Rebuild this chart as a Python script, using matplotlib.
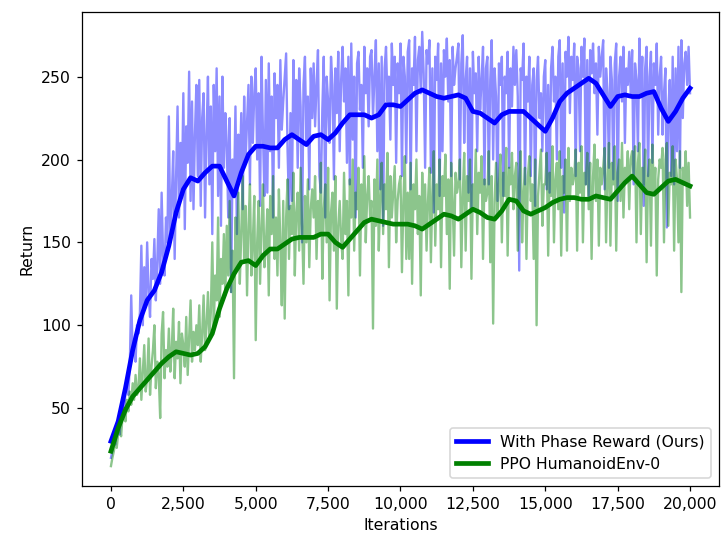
import numpy as np
import matplotlib
matplotlib.use("Agg")
import matplotlib.pyplot as plt
from matplotlib.ticker import StrMethodFormatter

# ---------------- data ----------------
raw_step = 50
smooth_step = 250

blue_raw = [
    20, 24, 30, 28, 36, 40, 34, 48, 52, 45, 60, 66, 58, 75, 118, 82, 90, 78, 100, 95,
    108, 148, 100, 135, 112, 150, 120, 105, 140, 128, 152, 115, 138, 170, 125, 180, 142, 130, 165, 150,
    226, 150, 175, 205, 140, 190, 232, 165, 210, 180, 240, 158, 220, 198, 253, 175, 235, 170, 215, 245,
    190, 248, 172, 225, 240, 165, 215, 250, 185, 232, 155, 245, 205, 255, 178, 238, 160, 250, 195, 228,
    210, 165, 225, 120, 200, 180, 232, 155, 215, 190, 228, 170, 238, 200, 222, 245, 185, 250, 210, 240,
    255, 200, 240, 172, 262, 215, 178, 248, 180, 258, 205, 238, 165, 252, 225, 245, 195, 260, 218, 235,
    250, 264, 205, 170, 228, 175, 260, 215, 248, 195, 255, 232, 150, 245, 262, 210, 238, 182, 255, 225,
    258, 220, 245, 266, 190, 180, 230, 262, 165, 250, 235, 210, 262, 245, 188, 255, 228, 265, 205, 248,
    268, 235, 255, 198, 262, 185, 270, 212, 250, 165, 258, 265, 230, 245, 195, 268, 240, 255, 220, 262,
    266, 225, 250, 272, 205, 258, 182, 262, 160, 255, 268, 235, 250, 212, 270, 245, 262, 198, 258, 240,
    270, 190, 262, 250, 198, 265, 272, 182, 255, 245, 274, 205, 260, 268, 240, 277, 252, 195, 266, 258,
    272, 192, 255, 168, 262, 248, 270, 178, 258, 205, 266, 250, 273, 235, 260, 190, 268, 245, 255, 262,
    270, 188, 258, 275, 210, 248, 262, 180, 255, 170, 265, 240, 252, 205, 262, 230, 248, 268, 185, 255,
    262, 185, 248, 272, 200, 255, 238, 175, 258, 245, 262, 178, 250, 240, 265, 195, 255, 232, 268, 245,
    266, 238, 133, 255, 248, 270, 185, 250, 235, 262, 190, 245, 255, 172, 248, 262, 225, 240, 205, 250,
    260, 182, 245, 180, 255, 268, 235, 250, 200, 262, 272, 195, 258, 168, 265, 250, 274, 228, 262, 248,
    270, 190, 262, 255, 205, 268, 250, 273, 185, 260, 178, 266, 252, 270, 240, 258, 215, 268, 250, 262,
    272, 182, 255, 240, 195, 262, 248, 188, 258, 270, 175, 250, 262, 235, 268, 210, 255, 245, 265, 240,
    266, 185, 258, 248, 205, 273, 240, 262, 172, 255, 268, 190, 250, 265, 198, 258, 245, 270, 215, 250,
    262, 215, 240, 255, 159, 230, 248, 190, 262, 185, 255, 205, 268, 195, 272, 225, 258, 265, 245, 268,
    240,
]

green_raw = [
    15, 20, 24, 30, 26, 35, 40, 33, 45, 50, 42, 55, 48, 60, 52, 65, 55, 70, 58, 62,
    80, 55, 72, 88, 60, 68, 92, 58, 75, 85, 100, 62, 78, 70, 44, 95, 108, 68, 85, 75,
    98, 72, 85, 110, 68, 90, 80, 102, 65, 95, 88, 75, 105, 70, 92, 115, 78, 96, 85, 100,
    88, 112, 78, 95, 118, 85, 100, 120, 92, 108, 150, 98, 130, 115, 165, 105, 140, 125, 155, 118,
    160, 130, 175, 120, 145, 68, 165, 135, 180, 125, 155, 190, 140, 172, 118, 160, 185, 130, 150, 178,
    91, 150, 175, 125, 160, 185, 135, 148, 170, 118, 178, 155, 190, 140, 165, 130, 182, 150, 112, 175,
    104, 165, 188, 140, 172, 155, 192, 130, 168, 180, 145, 195, 160, 125, 178, 150, 188, 135, 170, 182,
    165, 190, 140, 175, 155, 198, 128, 170, 185, 150, 195, 115, 168, 180, 145, 190, 110, 160, 175, 152,
    140, 192, 155, 175, 118, 188, 165, 200, 145, 180, 170, 195, 130, 185, 160, 202, 150, 178, 190, 165,
    175, 98, 188, 160, 200, 145, 178, 198, 155, 185, 170, 204, 135, 190, 165, 180, 196, 150, 175, 185,
    190, 132, 175, 202, 140, 180, 140, 198, 125, 185, 170, 200, 155, 178, 118, 192, 160, 185, 145, 175,
    195, 138, 180, 205, 148, 185, 170, 200, 135, 190, 178, 203, 155, 188, 122, 198, 175, 142, 192, 180,
    185, 200, 135, 178, 204, 145, 190, 175, 200, 128, 185, 170, 206, 155, 192, 180, 202, 140, 188, 175,
    180, 205, 138, 190, 101, 175, 198, 165, 185, 203, 150, 192, 178, 207, 142, 195, 185, 204, 170, 190,
    198, 145, 188, 205, 150, 180, 195, 140, 190, 202, 175, 185, 140, 200, 100, 178, 192, 206, 160, 185,
    185, 204, 142, 192, 178, 208, 150, 188, 198, 170, 205, 142, 190, 180, 200, 145, 207, 175, 195, 185,
    190, 206, 145, 198, 180, 208, 150, 192, 185, 204, 170, 198, 140, 190, 209, 175, 200, 148, 195, 185,
    195, 207, 150, 190, 210, 148, 198, 185, 208, 145, 192, 200, 175, 210, 165, 195, 188, 205, 170, 200,
    205, 190, 208, 150, 198, 210, 155, 195, 185, 206, 138, 190, 200, 148, 209, 180, 195, 130, 188, 200,
    195, 207, 150, 200, 210, 160, 192, 185, 208, 145, 200, 188, 150, 205, 120, 195, 185, 205, 172, 198,
    165,
]

blue_smooth = [
    30, 42, 62, 85, 103, 115, 121, 132,
    148, 168, 182, 189, 187, 192, 196, 196,
    187, 178, 192, 203, 208, 208, 207, 207,
    212, 215, 212, 209, 214, 215, 212, 216,
    222, 227, 227, 227, 225, 227, 233, 233,
    232, 236, 240, 242, 240, 238, 237, 238,
    239, 237, 229, 228, 225, 222, 227, 229,
    229, 229, 225, 221, 217, 225, 235, 240,
    243, 246, 249, 246, 239, 232, 238, 239,
    238, 238, 240, 241, 231, 223, 229, 237,
    243,
]

green_smooth = [
    24, 38, 49, 57, 62, 67, 72, 77,
    81, 84, 83, 82, 83, 87, 95, 110,
    122, 131, 138, 139, 136, 142, 146, 146,
    149, 152, 153, 153, 153, 155, 155, 150,
    147, 152, 157, 162, 164, 163, 162, 161,
    161, 161, 160, 158, 161, 164, 167, 166,
    164, 167, 170, 168, 165, 164, 169, 176,
    175, 169, 167, 169, 171, 174, 176, 177,
    177, 176, 176, 178, 177, 176, 181, 186,
    190, 185, 180, 179, 183, 187, 188, 186,
    184,
]

labels = ["With Phase Reward (Ours)", "PPO HumanoidEnv-0"]

x_raw = np.arange(len(blue_raw)) * raw_step
x_smooth = np.arange(len(blue_smooth)) * smooth_step

# ---------------- figure ----------------
dpi = 112.8
fig = plt.figure(figsize=(722 / dpi, 538 / dpi), dpi=dpi)
ax = fig.add_axes([82 / 722, (538 - 486) / 538, (719 - 82) / 722, (486 - 12) / 538])

ax.plot(x_raw, blue_raw, color="blue", alpha=0.45, lw=1.5)
ax.plot(x_raw, green_raw, color="green", alpha=0.45, lw=1.5)
ax.plot(x_smooth, blue_smooth, color="blue", lw=3, label=labels[0])
ax.plot(x_smooth, green_smooth, color="green", lw=3, label=labels[1])

ax.set_xlim(-1000, 21000)
ax.set_ylim(3, 289)
ax.set_xticks(np.arange(0, 20001, 2500))
ax.set_yticks([50, 100, 150, 200, 250])
ax.xaxis.set_major_formatter(StrMethodFormatter("{x:,.0f}"))
ax.set_xlabel("Iterations")
ax.set_ylabel("Return")
ax.legend(loc="lower right")

fig.savefig("out.png", dpi=dpi)
